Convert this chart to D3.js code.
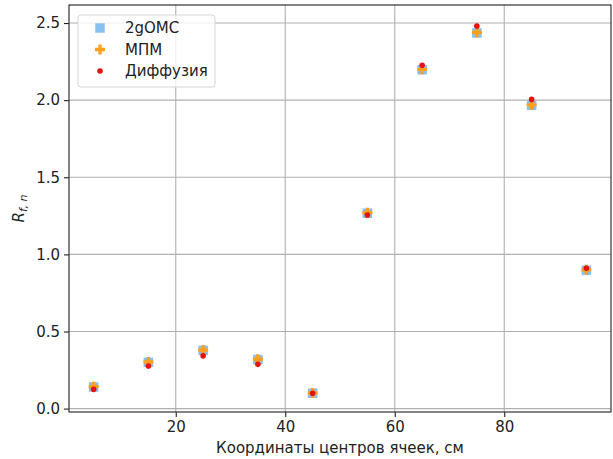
<!DOCTYPE html>
<html>
<head>
<meta charset="utf-8">
<script src="https://cdn.jsdelivr.net/npm/d3@7"></script>
<style>
  body { margin: 0; background: #fff; }
  svg { font-family: "DejaVu Sans", sans-serif; }
</style>
</head>
<body>
<script>
// cell centres, cm
const xs = [5, 15, 25, 35, 45, 55, 65, 75, 85, 95];
const omc = [0.140, 0.300, 0.378, 0.318, 0.100, 1.267, 2.197, 2.436, 1.966, 0.897];
const mpm = [0.142, 0.302, 0.380, 0.320, 0.101, 1.270, 2.200, 2.440, 1.970, 0.900];
const diff = [0.125, 0.276, 0.342, 0.287, 0.100, 1.255, 2.226, 2.481, 2.005, 0.910];
const xTicks = [20, 40, 60, 80];
const yTicks = [0, 0.5, 1, 1.5, 2, 2.5];

const width = 613, height = 459;
const margin = {top: 5, right: 2, bottom: 47, left: 69};
const fs = 15;

const svg = d3.select("body").append("svg")
    .attr("width", width)
    .attr("height", height);

const x = d3.scaleLinear().domain([0.5, 99.5]).range([margin.left, width - margin.right]);
const y = d3.scaleLinear().domain([-0.022, 2.617]).range([height - margin.bottom, margin.top]);

// grid
svg.append("g")
    .attr("stroke", "#b0b0b0")
    .attr("stroke-width", 1.1)
  .selectAll("line.gx")
  .data(xTicks)
  .join("line")
    .attr("x1", d => x(d)).attr("x2", d => x(d))
    .attr("y1", margin.top).attr("y2", height - margin.bottom);

svg.append("g")
    .attr("stroke", "#b0b0b0")
    .attr("stroke-width", 1.1)
  .selectAll("line.gy")
  .data(yTicks)
  .join("line")
    .attr("x1", margin.left).attr("x2", width - margin.right)
    .attr("y1", d => y(d)).attr("y2", d => y(d));

// axes
const xAxis = svg.append("g")
    .attr("transform", `translate(0,${height - margin.bottom})`)
    .call(d3.axisBottom(x).tickValues(xTicks).tickSize(5).tickPadding(4).tickFormat(d3.format("d")));
const yAxis = svg.append("g")
    .attr("transform", `translate(${margin.left},0)`)
    .call(d3.axisLeft(y).tickValues(yTicks).tickSize(5).tickPadding(4).tickFormat(d3.format(".1f")));

[xAxis, yAxis].forEach(a => {
  a.select(".domain").remove();
  a.selectAll("text").attr("font-size", fs).attr("fill", "#222").attr("font-family", "DejaVu Sans");
  a.selectAll(".tick line").attr("stroke", "#222").attr("stroke-width", 1.1);
});

// frame
svg.append("rect")
    .attr("x", margin.left).attr("y", margin.top)
    .attr("width", width - margin.right - margin.left)
    .attr("height", height - margin.bottom - margin.top)
    .attr("fill", "none")
    .attr("stroke", "#333")
    .attr("stroke-width", 1.2);

// markers
const sq = 9.5;
svg.append("g")
  .selectAll("rect")
  .data(xs.map((d, i) => [d, omc[i]]))
  .join("rect")
    .attr("x", d => x(d[0]) - sq / 2)
    .attr("y", d => y(d[1]) - sq / 2)
    .attr("width", sq).attr("height", sq)
    .attr("fill", "#88c0f0");

const cross = d3.symbol().type(d3.symbolCross).size(55);
svg.append("g")
  .selectAll("path")
  .data(xs.map((d, i) => [d, mpm[i]]))
  .join("path")
    .attr("transform", d => `translate(${x(d[0])},${y(d[1])})`)
    .attr("d", cross)
    .attr("fill", "#ff9f1c");

svg.append("g")
  .selectAll("circle")
  .data(xs.map((d, i) => [d, diff[i]]))
  .join("circle")
    .attr("cx", d => x(d[0]))
    .attr("cy", d => y(d[1]))
    .attr("r", 2.8)
    .attr("fill", "#e3120b");

// legend
const legend = svg.append("g").attr("transform", "translate(78,15)");
legend.append("rect")
    .attr("width", 137).attr("height", 72)
    .attr("rx", 3)
    .attr("fill", "#fff").attr("fill-opacity", 0.8)
    .attr("stroke", "#d5d5d5");

const items = [
  {label: "2gOMC", kind: "square"},
  {label: "МПМ", kind: "cross"},
  {label: "Диффузия", kind: "dot"}
];
items.forEach((it, i) => {
  const cy = 13 + i * 21.5;
  const g = legend.append("g").attr("transform", `translate(22,${cy})`);
  if (it.kind === "square") {
    g.append("rect").attr("x", -sq / 2).attr("y", -sq / 2).attr("width", sq).attr("height", sq).attr("fill", "#88c0f0");
  } else if (it.kind === "cross") {
    g.append("path").attr("d", cross).attr("fill", "#ff9f1c");
  } else {
    g.append("circle").attr("r", 2.8).attr("fill", "#e3120b");
  }
  legend.append("text")
      .attr("x", 47).attr("y", cy)
      .attr("dy", "0.35em")
      .attr("font-size", fs)
      .attr("fill", "#222")
      .text(it.label);
});

// labels
svg.append("text")
    .attr("x", (margin.left + width - margin.right) / 2)
    .attr("y", 453)
    .attr("text-anchor", "middle")
    .attr("font-size", fs)
    .attr("fill", "#222")
    .text("Координаты центров ячеек, см");

const yl = svg.append("text")
    .attr("transform", `translate(24,${(margin.top + height - margin.bottom) / 2}) rotate(-90)`)
    .attr("text-anchor", "middle")
    .attr("font-size", fs)
    .attr("fill", "#222")
    .attr("font-style", "italic");
yl.append("tspan").text("R");
yl.append("tspan").attr("font-size", 11).attr("dy", 3).text("f, n");
</script>
</body>
</html>
